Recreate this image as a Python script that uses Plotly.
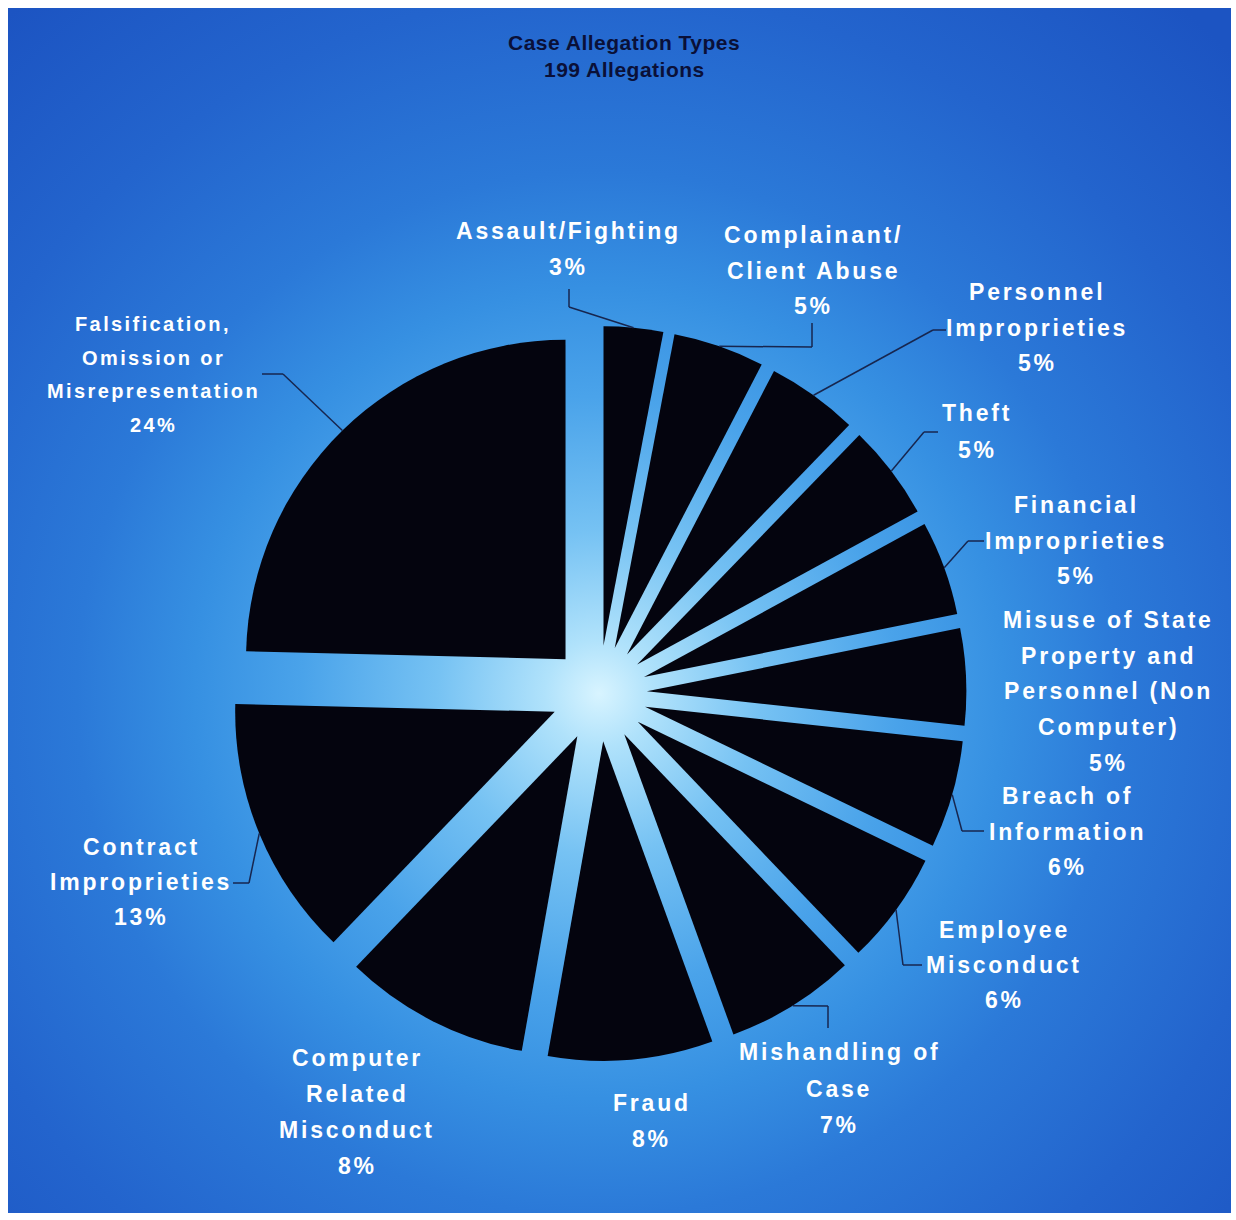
import math
import base64
import plotly.graph_objects as go

# ---------------- data ----------------
categories = [
    "Assault/Fighting",
    "Complainant/ Client Abuse",
    "Personnel Improprieties",
    "Theft",
    "Financial Improprieties",
    "Misuse of State Property and Personnel (Non Computer)",
    "Breach of Information",
    "Employee Misconduct",
    "Mishandling of Case",
    "Fraud",
    "Computer Related Misconduct",
    "Contract Improprieties",
    "Falsification, Omission or Misrepresentation",
]
# slice shares as drawn in the picture (percent of the circle)
slice_share_pct = [3.0, 4.61, 4.63, 4.81, 4.78, 4.89, 5.44, 5.71, 6.58, 8.33, 9.39, 13.22, 24.61]
# percentages as printed on the labels
percent_labels = ["3%", "5%", "5%", "5%", "5%", "5%", "6%", "6%", "7%", "8%", "8%", "13%", "24%"]
label_lines = [
    ["Assault/Fighting"],
    ["Complainant/", "Client Abuse"],
    ["Personnel", "Improprieties"],
    ["Theft"],
    ["Financial", "Improprieties"],
    ["Misuse of State", "Property and", "Personnel (Non", "Computer)"],
    ["Breach of", "Information"],
    ["Employee", "Misconduct"],
    ["Mishandling of", "Case"],
    ["Fraud"],
    ["Computer", "Related", "Misconduct"],
    ["Contract", "Improprieties"],
    ["Falsification,", "Omission or", "Misrepresentation"],
]
total_allegations = 199
title_lines = ["Case Allegation Types", f"{total_allegations} Allegations"]

# ---------------- layout / style ----------------
W, H = 1236, 1220
CX, CY = 599, 693.5        # pie centre (px)
R = 319.5                  # pie radius (px)
PULL = 0.15
SLICE_COLOR = "#04040e"
TEXT_COLOR = "#ffffff"
LINE_COLOR = "#17264f"
FONT = "Liberation Sans, Arial, sans-serif"

# label placement: centre x, first-line y, line step, font size, spacing, leader points (label side first)
label_pos = [
    dict(x=568, y=231, dy=36, size=23, ls=2.8, leader=[(569, 289), (569, 307)]),
    dict(x=813, y=235, dy=35.5, size=23, ls=2.8, leader=[(812, 323), (812, 347)]),
    dict(x=1037, y=292, dy=35.5, size=23, ls=2.8, leader=[(946, 330), (933, 330)]),
    dict(x=977, y=413, dy=37, size=23, ls=2.8, leader=[(938, 432), (924, 432)]),
    dict(x=1076, y=505, dy=35.5, size=23, ls=2.8, leader=[(984, 541), (968, 541)]),
    dict(x=1108, y=620, dy=35.75, size=23, ls=2.8, leader=[]),
    dict(x=1067, y=796, dy=35.5, size=23, ls=2.8, leader=[(984, 831), (962, 831)]),
    dict(x=1004, y=930, dy=35, size=23, ls=2.8, leader=[(922, 965), (903, 965)]),
    dict(x=839, y=1052, dy=36.5, size=23, ls=2.8, leader=[(828, 1028), (828, 1006)]),
    dict(x=652, y=1103, dy=36, size=23, ls=2.8, leader=[]),
    dict(x=357, y=1058, dy=36, size=23, ls=2.8, leader=[]),
    dict(x=141, y=847, dy=35, size=23, ls=2.8, leader=[(233, 883), (249, 883)]),
    dict(x=153, y=324, dy=33.5, size=20, ls=2.4, leader=[(262, 374), (283, 374)]),
]


def px(x):
    return x / W


def py(y):
    return 1 - y / H


box = 2 * R * (1 + PULL)
domain = dict(x=[px(CX - box / 2), px(CX + box / 2)],
              y=[py(CY + box / 2), py(CY - box / 2)])

fig = go.Figure(go.Pie(
    labels=categories,
    values=slice_share_pct,
    text=percent_labels,
    sort=False,
    direction="clockwise",
    rotation=0,
    pull=PULL,
    marker=dict(colors=[SLICE_COLOR] * len(categories), line=dict(width=0)),
    textinfo="none",
    hovertemplate="%{label}<br>%{text}<extra></extra>",
    showlegend=False,
    domain=domain,
))

# ---------------- background gradient ----------------
bx0, by0, bx1, by1 = 8, 8, 1231, 1213
gw, gh = bx1 - bx0, by1 - by0
stops = [
    (0.00, "#d8f4ff"), (0.06, "#b0e2fb"), (0.18, "#76c2f3"),
    (0.33, "#4aa3ea"), (0.45, "#3690e2"), (0.58, "#2b79d8"),
    (0.78, "#2364cd"), (1.00, "#1c54c2"),
]
stop_xml = "".join(f"<stop offset='{o}' stop-color='{c}'/>" for o, c in stops)
svg = (f"<svg xmlns='http://www.w3.org/2000/svg' width='{gw}' height='{gh}' "
       f"viewBox='0 0 {gw} {gh}'><defs><radialGradient id='g' gradientUnits='userSpaceOnUse' "
       f"cx='{CX - bx0}' cy='{CY - by0}' r='900'>{stop_xml}</radialGradient></defs>"
       f"<rect x='0' y='0' width='{gw}' height='{gh}' fill='url(#g)'/></svg>")
svg_uri = "data:image/svg+xml;base64," + base64.b64encode(svg.encode()).decode()

images = [dict(source=svg_uri, xref="paper", yref="paper", x=px(bx0), y=py(by0),
               sizex=gw / W, sizey=gh / H, xanchor="left", yanchor="top",
               sizing="stretch", layer="below")]

# ---------------- labels & leader lines ----------------
annotations = []
shapes = []
total_share = sum(slice_share_pct)
cum = 0
for i, v in enumerate(slice_share_pct):
    theta = 2 * math.pi * (cum + v / 2) / total_share
    cum += v
    # mid-point of the (pulled) slice arc
    ax = CX + R * (1 + PULL) * math.sin(theta)
    ay = CY - R * (1 + PULL) * math.cos(theta)
    pos = label_pos[i]
    lines = label_lines[i] + [percent_labels[i]]
    for k, t in enumerate(lines):
        annotations.append(dict(
            text=f"<span style='letter-spacing:{pos['ls']}px'>{t}</span>",
            x=px(pos["x"]), y=py(pos["y"] + k * pos["dy"]),
            xref="paper", yref="paper", xanchor="center", yanchor="middle",
            showarrow=False,
            font=dict(family=FONT, size=pos["size"], color=TEXT_COLOR, weight="bold"),
        ))
    if pos["leader"]:
        pts = pos["leader"] + [(ax, ay)]
        for (x0, y0), (x1, y1) in zip(pts[:-1], pts[1:]):
            shapes.append(dict(type="line", xref="paper", yref="paper",
                               x0=px(x0), y0=py(y0), x1=px(x1), y1=py(y1),
                               line=dict(color=LINE_COLOR, width=1.5)))

for k, t in enumerate(title_lines):
    annotations.append(dict(
        text=f"<span style='letter-spacing:0.5px'>{t}</span>",
        x=px(624), y=py(42 + k * 28),
        xref="paper", yref="paper", xanchor="center", yanchor="middle",
        showarrow=False,
        font=dict(family=FONT, size=21, color="#0a1038", weight="bold"),
    ))

fig.update_layout(
    width=W, height=H,
    margin=dict(l=0, r=0, t=0, b=0),
    paper_bgcolor="#ffffff",
    showlegend=False,
    images=images,
    annotations=annotations,
    shapes=shapes,
)

fig.write_html("out.html")
